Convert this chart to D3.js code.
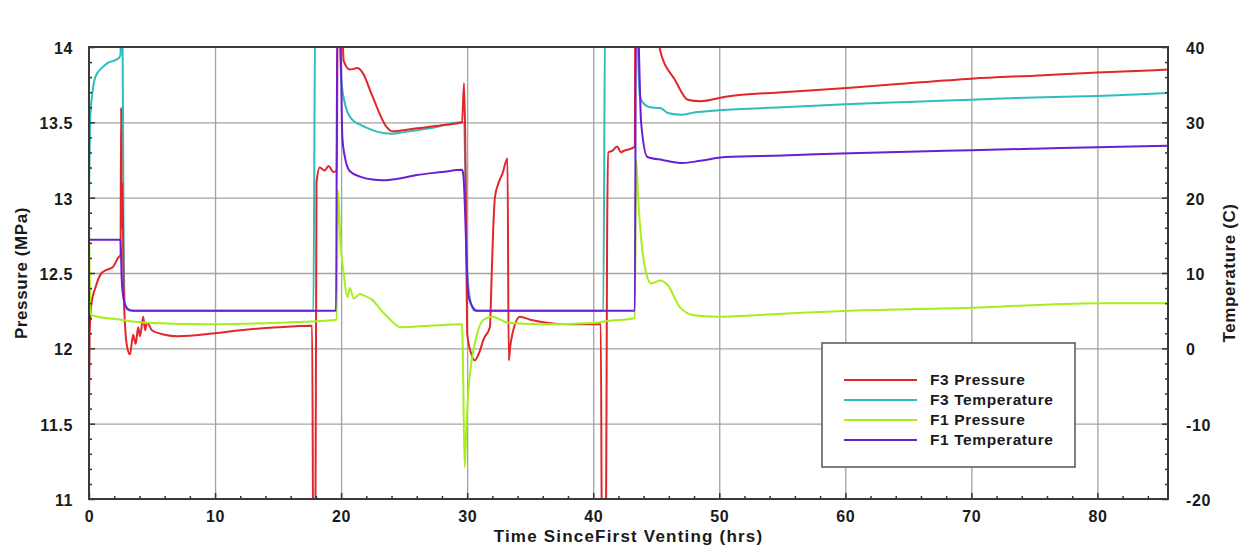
<!DOCTYPE html>
<html>
<head>
<meta charset="utf-8">
<script src="https://cdn.jsdelivr.net/npm/d3@7"></script>
<style>
  html, body { margin: 0; padding: 0; background: #ffffff; }
  svg { display: block; }
  text { font-family: "Liberation Sans", Arial, Helvetica, sans-serif; fill: #1a1a1a; }
</style>
</head>
<body>
<svg id="chart" width="1242" height="559"></svg>
<script>
// ---------------- data ----------------
const xTicks = [0, 10, 20, 30, 40, 50, 60, 70, 80];
const pressureTicks = [11, 11.5, 12, 12.5, 13, 13.5, 14];
const tempTicks = [-20, -10, 0, 10, 20, 30, 40];
const xTitle = "Time SinceFirst Venting (hrs)";
const leftTitle = "Pressure (MPa)";
const rightTitle = "Temperature (C)";
const seriesNames = ["F3 Pressure", "F3 Temperature", "F1 Pressure", "F1 Temperature"];
const seriesColors = ["#e3262a", "#2fbcbc", "#a6ef1a", "#6a1fd2"];

// [hours, MPa]
const f3Pressure = [
  [0, 11.6], [0.05, 12.1], [0.2, 12.3], [0.5, 12.4], [1.0, 12.5], [1.4, 12.52], [1.9, 12.54], [2.3, 12.6],
  [2.5, 12.62], [2.55, 13.6], [2.6, 12.8], [2.65, 13.1], [2.75, 12.4], [2.9, 12.1], [3.05, 12.0], [3.25, 11.96],
  [3.5, 12.09], [3.7, 12.03], [3.9, 12.14], [4.05, 12.08], [4.3, 12.21], [4.45, 12.12], [4.6, 12.17], [5.0, 12.12],
  [6.0, 12.09], [7.0, 12.08], [10, 12.1], [12, 12.12], [15, 12.14], [17.7, 12.15], [17.8, 10.5], [17.95, 10.5],
  [18.05, 13.1], [18.3, 13.2], [18.7, 13.18], [19.0, 13.21], [19.4, 13.17], [19.65, 13.18], [19.75, 14.5], [20.0, 14.5],
  [20.2, 13.91], [20.7, 13.85], [21.3, 13.86], [21.7, 13.83], [22.5, 13.67], [23.6, 13.47], [24.1, 13.44], [26, 13.46],
  [28, 13.48], [29.6, 13.5], [29.75, 13.76], [29.85, 13.4], [30.0, 12.1], [30.3, 11.97], [30.6, 11.92], [31.0, 11.98],
  [31.3, 12.06], [31.8, 12.14], [31.95, 12.5], [32.05, 12.75], [32.2, 13.0], [32.5, 13.1], [32.8, 13.16], [33.2, 13.26],
  [33.3, 11.92], [33.4, 12.0], [33.6, 12.1], [34.2, 12.21], [35, 12.19], [36.3, 12.17], [38, 12.16], [40.6, 12.16],
  [40.7, 10.5], [41.0, 10.5], [41.1, 12.7], [41.2, 13.3], [41.5, 13.31], [41.9, 13.34], [42.2, 13.3], [42.4, 13.31],
  [42.8, 13.32], [43.3, 13.34], [43.35, 14.5], [45.0, 14.5], [45.3, 13.98], [46.5, 13.78], [47.5, 13.65], [48.5, 13.64],
  [50.5, 13.67], [55, 13.7], [60.4, 13.73], [65, 13.76], [70, 13.79], [75, 13.81], [80, 13.83], [85.6, 13.85]
];
// [hours, deg C]
const f3Temperature = [
  [0, 20], [0.08, 30], [0.3, 34.3], [0.5, 36], [1.0, 37.2], [1.5, 37.9], [2.0, 38.2], [2.4, 38.6], [2.5, 39],
  [2.55, 45], [2.65, 45], [2.75, 12], [2.85, 6], [3.0, 5.2], [3.3, 5], [17.8, 5], [17.95, 45], [19.8, 45],
  [20.0, 36], [20.3, 32.5], [20.8, 30.5], [21.5, 29.7], [22, 29.3], [23, 28.7], [24, 28.5], [25, 28.7], [27, 29.2],
  [29.5, 30.0], [29.7, 30.0], [29.9, 20], [30.0, 10], [30.3, 6], [30.6, 5], [40.8, 5], [40.95, 45], [43.4, 45],
  [43.7, 33.5], [44.0, 32.5], [44.5, 32], [45.3, 31.9], [46, 31.2], [47, 31], [48, 31.3], [50, 31.6], [55, 32],
  [60, 32.4], [65, 32.7], [70, 33], [75, 33.3], [80, 33.5], [85.6, 33.9]
];
// [hours, MPa]
const f1Pressure = [
  [0, 12.85], [0.05, 12.5], [0.12, 12.25], [0.2, 12.22], [2.5, 12.19], [4.6, 12.17], [10, 12.16], [15, 12.17],
  [19.65, 12.19], [19.75, 13.05], [19.95, 12.7], [20.2, 12.5], [20.5, 12.34], [20.7, 12.4], [21.0, 12.33], [21.5, 12.36],
  [21.8, 12.35], [22.5, 12.32], [23.2, 12.25], [23.9, 12.19], [24.7, 12.14], [27, 12.15], [29.6, 12.16], [29.65, 12.0],
  [29.8, 11.21], [29.95, 11.5], [30.1, 11.72], [30.4, 11.94], [30.8, 12.1], [31.3, 12.19], [32, 12.21], [33.2, 12.17],
  [35.8, 12.16], [40.3, 12.17], [41, 12.18], [43.3, 12.2], [43.4, 13.25], [43.6, 12.95], [43.9, 12.65], [44.2, 12.5],
  [44.6, 12.43], [45.3, 12.45], [45.9, 12.42], [46.9, 12.27], [48, 12.22], [49.8, 12.21], [55, 12.23], [60.4, 12.25],
  [70, 12.27], [80, 12.3], [85.6, 12.3]
];
// [hours, deg C]
const f1Temperature = [
  [0, 14.4], [2.5, 14.4], [2.6, 9], [2.75, 6.5], [2.95, 5.5], [3.2, 5.1], [3.5, 5], [19.6, 5], [19.7, 45],
  [19.9, 45], [20.1, 28], [20.3, 25.4], [20.7, 23.5], [21.5, 22.8], [22.5, 22.4], [23.3, 22.3], [24.5, 22.5],
  [26, 23], [28, 23.4], [29.6, 23.7], [29.7, 23], [30.1, 7], [30.4, 5.6], [30.8, 5], [43.3, 5], [43.4, 45],
  [43.5, 45], [43.8, 30], [44.3, 25.4], [45.5, 25], [47.1, 24.6], [48.5, 24.9], [50.5, 25.4], [55, 25.6],
  [60.4, 25.9], [65, 26.1], [70, 26.3], [75, 26.5], [80, 26.7], [85.6, 26.9]
];

// ---------------- layout ----------------
const W = 1242, H = 559;
const m = { left: 89, right: 1242 - 1168, top: 47, bottom: 559 - 499 };
const pw = W - m.left - m.right, ph = H - m.top - m.bottom;

const svg = d3.select("#chart");
const x = d3.scaleLinear().domain([0, 85.6]).range([m.left, m.left + pw]);
const yP = d3.scaleLinear().domain([11, 14]).range([m.top + ph, m.top]);
const yT = d3.scaleLinear().domain([-20, 40]).range([m.top + ph, m.top]);

svg.append("rect").attr("x", 0).attr("y", 0).attr("width", W).attr("height", H).attr("fill", "#fff");

// gridlines
const grid = svg.append("g").attr("class", "grid");
grid.append("g").attr("transform", `translate(0,${m.top + ph})`)
  .call(d3.axisBottom(x).tickValues(xTicks.slice(1)).tickSize(-ph).tickFormat(""));
grid.append("g").attr("transform", `translate(${m.left},0)`)
  .call(d3.axisLeft(yP).tickValues(pressureTicks.slice(1, -1)).tickSize(-pw).tickFormat(""));
grid.selectAll(".domain").remove();
grid.selectAll("line").attr("stroke", "#a3a3a3").attr("stroke-width", 1.3);

// series
const defs = svg.append("defs");
defs.append("clipPath").attr("id", "clip").append("rect")
  .attr("x", m.left).attr("y", m.top).attr("width", pw).attr("height", ph);
const plot = svg.append("g").attr("clip-path", "url(#clip)");
const lineP = d3.line().curve(d3.curveMonotoneX).x(d => x(d[0])).y(d => yP(d[1]));
const lineT = d3.line().curve(d3.curveMonotoneX).x(d => x(d[0])).y(d => yT(d[1]));
const drawOrder = [
  { data: f3Temperature, gen: lineT, color: seriesColors[1] },
  { data: f3Pressure, gen: lineP, color: seriesColors[0] },
  { data: f1Pressure, gen: lineP, color: seriesColors[2] },
  { data: f1Temperature, gen: lineT, color: seriesColors[3] }
];
drawOrder.forEach(s => {
  plot.append("path").datum(s.data).attr("d", s.gen)
    .attr("fill", "none").attr("stroke", s.color).attr("stroke-width", 2)
    .attr("stroke-linejoin", "round");
});

// axes with inward ticks
function styleAxis(g) {
  g.selectAll(".domain").remove();
  g.selectAll("line").attr("stroke", "#333").attr("stroke-width", 1.5);
  g.selectAll("text").attr("font-size", 16).attr("font-weight", "bold").attr("fill", "#1a1a1a")
    .attr("font-family", "'Liberation Sans', Arial, sans-serif").attr("letter-spacing", 0.6);
}
const fmtPlain = d => String(d);
// bottom
const gx = svg.append("g").attr("transform", `translate(0,${m.top + ph})`)
  .call(d3.axisBottom(x).tickValues(xTicks).tickSize(-6).tickPadding(12).tickFormat(fmtPlain));
styleAxis(gx);
const minorX = d3.range(0, 86, 2).filter(v => v % 10 !== 0);
const gxm = svg.append("g").attr("transform", `translate(0,${m.top + ph})`)
  .call(d3.axisBottom(x).tickValues(minorX).tickSize(-3).tickFormat(""));
styleAxis(gxm);
// left
const gy = svg.append("g").attr("transform", `translate(${m.left},0)`)
  .call(d3.axisLeft(yP).tickValues(pressureTicks).tickSize(-6).tickPadding(16).tickFormat(fmtPlain));
styleAxis(gy);
gy.selectAll("text").attr("dy", "0.4em");
const minorP = d3.range(11.1, 14, 0.1).map(v => +v.toFixed(1)).filter(v => Math.abs(v * 2 - Math.round(v * 2)) > 1e-6);
const gym = svg.append("g").attr("transform", `translate(${m.left},0)`)
  .call(d3.axisLeft(yP).tickValues(minorP).tickSize(-3).tickFormat(""));
styleAxis(gym);
// right
const gr = svg.append("g").attr("transform", `translate(${m.left + pw},0)`)
  .call(d3.axisRight(yT).tickValues(tempTicks).tickSize(-6).tickPadding(18).tickFormat(fmtPlain));
styleAxis(gr);
gr.selectAll("text").attr("dy", "0.4em");
const minorT = d3.range(-18, 40, 2).filter(v => v % 10 !== 0);
const grm = svg.append("g").attr("transform", `translate(${m.left + pw},0)`)
  .call(d3.axisRight(yT).tickValues(minorT).tickSize(-3).tickFormat(""));
styleAxis(grm);

// frame
svg.append("rect").attr("x", m.left).attr("y", m.top).attr("width", pw).attr("height", ph)
  .attr("fill", "none").attr("stroke", "#3a3a3a").attr("stroke-width", 2);

// titles
svg.append("text").attr("x", m.left + pw / 2).attr("y", 542).attr("text-anchor", "middle")
  .attr("font-size", 17).attr("font-weight", "bold").attr("letter-spacing", 1.2).text(xTitle);
svg.append("text").attr("transform", `translate(27,${m.top + ph / 2}) rotate(-90)`).attr("text-anchor", "middle")
  .attr("font-size", 17).attr("font-weight", "bold").attr("letter-spacing", 0.6).text(leftTitle);
svg.append("text").attr("transform", `translate(1235,${m.top + ph / 2}) rotate(-90)`).attr("text-anchor", "middle")
  .attr("font-size", 17).attr("font-weight", "bold").attr("letter-spacing", 0.6).text(rightTitle);

// legend
const lg = svg.append("g").attr("transform", "translate(822,343)");
lg.append("rect").attr("width", 253).attr("height", 124).attr("fill", "#fff")
  .attr("stroke", "#555").attr("stroke-width", 1.5);
seriesNames.forEach((name, i) => {
  const yy = 37 + i * 20;
  lg.append("line").attr("x1", 22).attr("x2", 95).attr("y1", yy).attr("y2", yy)
    .attr("stroke", seriesColors[i]).attr("stroke-width", 2.2);
  lg.append("text").attr("x", 108).attr("y", yy + 5).attr("font-size", 15.5).attr("font-weight", "bold")
    .attr("letter-spacing", 0.6).text(name);
});
</script>
</body>
</html>
